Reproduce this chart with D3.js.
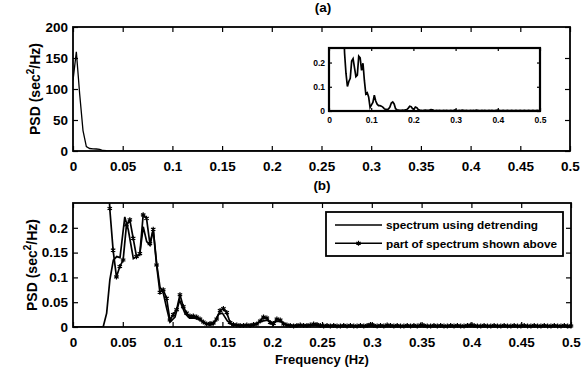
<!DOCTYPE html>
<html>
<head>
<meta charset="utf-8">
<script src="https://cdn.jsdelivr.net/npm/d3@7"></script>
<style>
    body { margin: 0; background: #fff; }
    svg { font-family: "Liberation Sans", Arial, sans-serif; font-weight: bold; }
    .tick text { font-size: 13.5px; fill: #000; }
    .tick line { stroke: #000; stroke-width: 1.2; }
    .inset .tick text { font-size: 8.5px; }
</style>
</head>
<body>
<div class="svg-container"></div>
<script>
// original spectrum, one value per frequency bin (bin width 1/298 Hz)
const binWidth = 1 / 298;
const rawPsd = [
    114, 160, 92, 33, 7, 4, 3.5, 3.2, 2.5, 0.8,
    0.4, 0.239, 0.155, 0.101, 0.122, 0.135, 0.206, 0.216, 0.179, 0.142,
    0.148, 0.226, 0.219, 0.168, 0.197, 0.125, 0.07, 0.075, 0.058, 0.014,
    0.025, 0.035, 0.065, 0.041, 0.028, 0.022, 0.022, 0.02, 0.016, 0.01,
    0.006, 0.007, 0.008, 0.016, 0.033, 0.037, 0.029, 0.009, 0.005, 0.004,
    0.003, 0.003, 0.004, 0.003, 0.005, 0.006, 0.012, 0.02, 0.018, 0.009,
    0.007, 0.016, 0.014, 0.006, 0.004,
    0.003, 0.002, 0.003, 0.004, 0.003, 0.003, 0.004, 0.006, 0.005, 0.003,
    0.002, 0.003, 0.002, 0.003, 0.002, 0.002, 0.003, 0.002, 0.003, 0.002,
    0.002, 0.003, 0.002, 0.003, 0.005, 0.003, 0.002, 0.003, 0.002, 0.004,
    0.003, 0.002, 0.003, 0.002, 0.002, 0.003, 0.002, 0.003, 0.002, 0.004,
    0.003, 0.002, 0.002, 0.003, 0.002, 0.003, 0.002, 0.002, 0.003, 0.002,
    0.003, 0.002, 0.002, 0.003, 0.004, 0.003, 0.002, 0.002, 0.003, 0.002,
    0.002, 0.003, 0.002, 0.002, 0.003, 0.002, 0.002, 0.003, 0.002, 0.002,
    0.003, 0.002, 0.002, 0.003, 0.002, 0.002, 0.003, 0.002, 0.002, 0.003,
    0.002, 0.002, 0.003, 0.002, 0.002
];
const rawFreq = rawPsd.map((v, k) => k * binWidth);

// spectrum using detrending
const detFreq = [0, 0.02, 0.0304, 0.0338, 0.037, 0.0405, 0.0439, 0.0472, 0.052, 0.0555,
    0.0606, 0.064, 0.067, 0.0705, 0.074, 0.0773, 0.0806, 0.084, 0.0873, 0.0907,
    0.094, 0.0974, 0.1024, 0.107, 0.1125, 0.117, 0.122, 0.127, 0.132, 0.137,
    0.141, 0.146, 0.15, 0.155, 0.16, 0.165, 0.17, 0.18, 0.19, 0.195,
    0.2, 0.205, 0.21, 0.215, 0.22, 0.25, 0.3, 0.35, 0.4, 0.45, 0.5];
const detPsd = [0, 0, 0.001, 0.028, 0.095, 0.135, 0.142, 0.14, 0.222, 0.196,
    0.138, 0.142, 0.146, 0.202, 0.172, 0.165, 0.196, 0.128, 0.081, 0.068,
    0.038, 0.01, 0.02, 0.054, 0.027, 0.018, 0.018, 0.015, 0.008, 0.004,
    0.005, 0.026, 0.028, 0.012, 0.004, 0.003, 0.003, 0.004, 0.012, 0.014,
    0.006, 0.012, 0.01, 0.004, 0.003, 0.003, 0.002, 0.002, 0.002, 0.002, 0.002];

// ticks
const xTicks = [0, 0.05, 0.1, 0.15, 0.2, 0.25, 0.3, 0.35, 0.4, 0.45, 0.5];
const yTicksTop = [0, 50, 100, 150, 200];
const xTicksInset = [0, 0.1, 0.2, 0.3, 0.4, 0.5];
const yTicksInset = [0, 0.1, 0.2];
const yTicksBottom = [0, 0.05, 0.1, 0.15, 0.2];
const legendLabels = ['spectrum using detrending', 'part of spectrum shown above'];

const rawData = rawFreq.map((f, i) => [f, rawPsd[i]]);
const detData = detFreq.map((f, i) => [f, detPsd[i]]);

var svg = d3.select('.svg-container')
    .append('svg')
    .attr('width', 588)
    .attr('height', 370);

const fmt = d => d === 0 ? '0' : String(d);

// draws a box with inward ticks on all four sides
function drawAxes(g, xScale, yScale, xT, yT, opt) {
    const tl = opt.tick;
    const x0 = xScale.range()[0], x1 = xScale.range()[1];
    const y0 = yScale.range()[0], y1 = yScale.range()[1];
    g.append('g').attr('transform', 'translate(0,' + y0 + ')')
        .call(d3.axisBottom(xScale).tickValues(xT).tickSize(-tl).tickSizeOuter(0)
            .tickPadding(opt.xPad).tickFormat(fmt))
        .call(a => a.select('.domain').remove());
    g.append('g').attr('transform', 'translate(0,' + y1 + ')')
        .call(d3.axisTop(xScale).tickValues(xT).tickSize(-tl).tickSizeOuter(0).tickFormat(''))
        .call(a => a.select('.domain').remove());
    g.append('g').attr('transform', 'translate(' + x0 + ',0)')
        .call(d3.axisLeft(yScale).tickValues(yT).tickSize(-tl).tickSizeOuter(0)
            .tickPadding(opt.yPad).tickFormat(fmt))
        .call(a => a.select('.domain').remove());
    g.append('g').attr('transform', 'translate(' + x1 + ',0)')
        .call(d3.axisRight(yScale).tickValues(yT).tickSize(-tl).tickSizeOuter(0).tickFormat(''))
        .call(a => a.select('.domain').remove());
    g.selectAll('.tick text').attr('fill', '#000');
    g.append('rect')
        .attr('x', x0).attr('y', y1)
        .attr('width', x1 - x0).attr('height', y0 - y1)
        .attr('fill', 'none').attr('stroke', '#000').attr('stroke-width', opt.box);
}

function clip(id, xScale, yScale) {
    svg.append('clipPath').attr('id', id).append('rect')
        .attr('x', xScale.range()[0]).attr('y', yScale.range()[1])
        .attr('width', xScale.range()[1] - xScale.range()[0])
        .attr('height', yScale.range()[0] - yScale.range()[1]);
}

function yLabel(x, y) {
    const t = svg.append('text')
        .attr('transform', 'translate(' + x + ',' + y + ') rotate(-90)')
        .attr('text-anchor', 'middle')
        .style('font-size', '14px');
    t.append('tspan').text('PSD (sec');
    t.append('tspan').text('2').attr('dy', -6).style('font-size', '10px');
    t.append('tspan').text('/Hz)').attr('dy', 6);
}

// ---------- panel (a) ----------
var xTop = d3.scaleLinear().domain([0, 0.5]).range([73, 570]),
    yTop = d3.scaleLinear().domain([0, 200]).range([151, 27]);
var gTop = svg.append('g');
clip('clip-top', xTop, yTop);
gTop.append('path')
    .datum(rawData)
    .attr('clip-path', 'url(#clip-top)')
    .attr('fill', 'none').attr('stroke', '#000').attr('stroke-width', 1.3)
    .attr('d', d3.line().x(d => xTop(d[0])).y(d => yTop(d[1])));
drawAxes(gTop, xTop, yTop, xTicks, yTicksTop, {tick: 5, xPad: 10, yPad: 5, box: 1.8});
yLabel(40, 89);
svg.append('text').attr('x', 323).attr('y', 12).attr('text-anchor', 'middle')
    .style('font-size', '13.5px').text('(a)');

// inset
var xIn = d3.scaleLinear().domain([0, 0.5]).range([329, 540]),
    yIn = d3.scaleLinear().domain([0, 0.26]).range([111, 48]);
var gIn = svg.append('g').attr('class', 'inset');
clip('clip-inset', xIn, yIn);
gIn.append('path')
    .datum(rawData)
    .attr('clip-path', 'url(#clip-inset)')
    .attr('fill', 'none').attr('stroke', '#000').attr('stroke-width', 1.7)
    .attr('d', d3.line().x(d => xIn(d[0])).y(d => yIn(d[1])));
drawAxes(gIn, xIn, yIn, xTicksInset, yTicksInset, {tick: 3, xPad: 6, yPad: 4, box: 2.2});

// ---------- panel (b) ----------
var xBot = d3.scaleLinear().domain([0, 0.5]).range([73, 571]),
    yBot = d3.scaleLinear().domain([0, 0.25]).range([327, 203]);
var gBot = svg.append('g');
clip('clip-bot', xBot, yBot);
const lineBot = d3.line().x(d => xBot(d[0])).y(d => yBot(d[1]));
gBot.append('path')
    .datum(detData)
    .attr('clip-path', 'url(#clip-bot)')
    .attr('fill', 'none').attr('stroke', '#000').attr('stroke-width', 1.7)
    .attr('d', lineBot);
gBot.append('path')
    .datum(rawData)
    .attr('clip-path', 'url(#clip-bot)')
    .attr('fill', 'none').attr('stroke', '#000').attr('stroke-width', 1.7)
    .attr('d', lineBot);
const star = d3.symbol().type(d3.symbolAsterisk).size(18);
gBot.selectAll('.marker')
    .data(rawData.filter(d => d[1] <= yBot.domain()[1]))
    .enter().append('path')
    .attr('class', 'marker')
    .attr('transform', d => 'translate(' + xBot(d[0]) + ',' + yBot(d[1]) + ')')
    .attr('d', star)
    .attr('fill', 'none').attr('stroke', '#000').attr('stroke-width', 1.2);
drawAxes(gBot, xBot, yBot, xTicks, yTicksBottom, {tick: 5, xPad: 10, yPad: 5, box: 1.8});
yLabel(37, 265);
svg.append('text').attr('x', 322).attr('y', 190).attr('text-anchor', 'middle')
    .style('font-size', '13.5px').text('(b)');
svg.append('text').attr('x', 322).attr('y', 364).attr('text-anchor', 'middle')
    .style('font-size', '13px').text('Frequency (Hz)');

// legend
var leg = svg.append('g');
leg.append('rect').attr('x', 326).attr('y', 212).attr('width', 237).attr('height', 44)
    .attr('fill', '#fff').attr('stroke', '#000').attr('stroke-width', 1.8);
legendLabels.forEach(function (label, i) {
    const y = 225 + i * 18.3;
    leg.append('line').attr('x1', 335).attr('x2', 382).attr('y1', y).attr('y2', y)
        .attr('stroke', '#000').attr('stroke-width', 1.4);
    if (i === 1) {
        leg.append('path').attr('transform', 'translate(358.5,' + y + ')')
            .attr('d', star).attr('fill', 'none').attr('stroke', '#000').attr('stroke-width', 1.2);
    }
    leg.append('text').attr('x', 386).attr('y', y + 4.3)
        .style('font-size', '11.8px').text(label);
});
</script>
</body>
</html>
